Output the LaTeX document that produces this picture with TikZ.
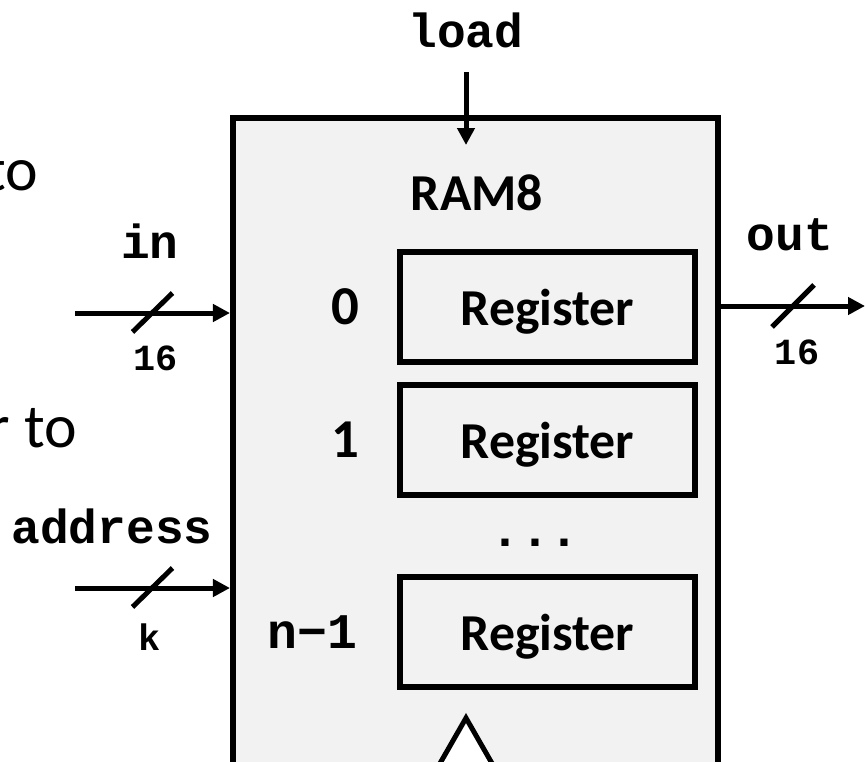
\documentclass[tikz,border=0pt]{standalone}
\usepackage{fontspec}
\setmainfont{Carlito}
\newfontfamily\codefont{Liberation Mono}
\usepackage{tikz}
\usetikzlibrary{positioning,arrows.meta,calc}
\definecolor{ink}     {HTML}{000000}
\definecolor{chipfill}{HTML}{F2F2F2}
\tikzset{
  >={Triangle[length=17bp,width=17bp]},
  % --- nodes
  chip/.style    = {draw=ink, fill=chipfill, line width=6bp, inner sep=0pt,
                    minimum width=485bp, minimum height=682bp},
  reg/.style     = {draw=ink, fill=chipfill, line width=5.5bp, inner sep=0pt,
                    minimum width=295bp, minimum height=110bp, text depth=0pt,
                    font=\fontsize{52}{60}\selectfont\bfseries},
  title/.style   = {inner sep=0pt, font=\fontsize{52}{60}\selectfont\bfseries},
  idx/.style     = {inner sep=0pt, text depth=0pt, font=\fontsize{55}{64}\selectfont\bfseries},
  idxcode/.style = {inner sep=0pt, text depth=0pt, font=\codefont\fontsize{50}{60}\selectfont\bfseries},
  portlbl/.style = {inner sep=0pt, font=\codefont\fontsize{48}{56}\selectfont\bfseries},
  buswd/.style   = {inner sep=0pt, font=\codefont\fontsize{37}{44}\selectfont\bfseries},
  slide/.style   = {inner sep=0pt, font=\fontsize{62}{72}\selectfont},
  % --- edges
  bus/.style     = {->, line width=5bp, draw=ink},
  slash/.style   = {line width=5bp, draw=ink},
}
\begin{document}
\begin{tikzpicture}[x=1bp,y=-1bp]
  \useasboundingbox (0,0) rectangle (865,762);
  \clip (0,0) rectangle (865,762);

  % chip body and its registers
  \node[chip] (ram) at (475.5,459) {};
  \node[title] (name) at (477,193) {RAM8};
  \node[reg] (reg0) at (547.5,307) {Register};
  \node[reg] (reg1) at (547.5,440) {Register};
  \node[inner sep=0pt, font=\codefont\fontsize{50}{60}\selectfont\bfseries] (dots) at (535,543) {...};
  \node[reg] (regN) at (547.5,632) {Register};

  \node[idx, left=38bp of reg0] (i0) {0};
  \node[idx, left=38bp of reg1] (i1) {1};
  \node[idxcode, left=40bp of regN] (iN) {n−1};

  % clock input
  \draw[line width=5bp, draw=ink, fill=white] (466,718) -- (419,800) -- (513,800) -- cycle;

  % load
  \node[portlbl] (ldL) at (466,30) {load};
  \coordinate (ldS) at (466,72);
  \coordinate (ldE) at (466,145);
  \draw[bus] (ldS) -- (ldE);

  % in
  \node[portlbl] (inL) at (150,241) {in};
  \node[buswd] (inW) at (156,358) {16};
  \coordinate (inS) at (75,313);
  \draw[bus] (inS) -- (inS -| ram.west) coordinate[midway] (inM);
  \draw[slash] ($(inM)+(-20,19)$) -- ($(inM)+(20,-20)$);

  % address
  \node[portlbl] (adrL) at (112,526) {address};
  \node[buswd] (adrW) at (150,637) {k};
  \coordinate (adrS) at (75,588);
  \draw[bus] (adrS) -- (adrS -| ram.west) coordinate[midway] (adrM);
  \draw[slash] ($(adrM)+(-20,19)$) -- ($(adrM)+(20,-20)$);

  % out
  \node[portlbl] (outL) at (790,235) {out};
  \node[buswd] (outW) at (797,352) {16};
  \coordinate (outE) at (865,306);
  \draw[bus] (outE -| ram.east) -- (outE) coordinate[midway] (outM);
  \draw[slash] ($(outM)+(-21,21)$) -- ($(outM)+(21,-21)$);

  % slide text running in from the left
  \node[slide, anchor=base east] (frag1) at (38,190) {to};
  \node[slide, anchor=base east] (frag2) at (77,447) {r to};
\end{tikzpicture}
\end{document}
